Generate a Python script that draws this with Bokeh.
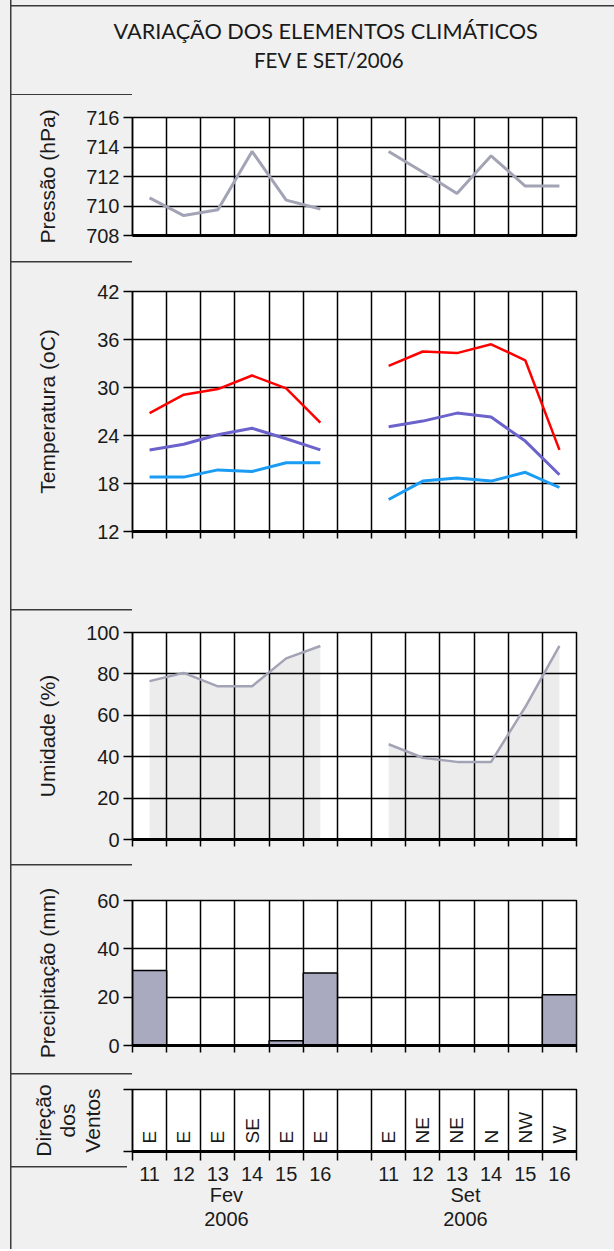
import numpy as np
from bokeh.plotting import figure
from bokeh.models import Range1d, FixedTicker, LinearAxis, Grid, Title
from bokeh.layouts import column
from bokeh.embed import file_html
from bokeh.resources import INLINE
from bokeh.core.properties import value

# ---------------- data ----------------
dias = ["11", "12", "13", "14", "15", "16"]
meses = ["Fev", "Set"]
ano = "2006"
titulo = ["VARIAÇÃO DOS ELEMENTOS CLIMÁTICOS", "FEV E SET/2006"]

pressao_fev = [710.55, 709.35, 709.75, 713.7, 710.4, 709.8]
pressao_set = [713.7, 712.3, 710.85, 713.4, 711.35, 711.35]

tmax_fev = [26.8, 29.1, 29.8, 31.5, 29.9, 25.6]
tmax_set = [32.7, 34.5, 34.3, 35.4, 33.4, 22.2]
tmed_fev = [22.2, 22.9, 24.1, 24.9, 23.6, 22.2]
tmed_set = [25.1, 25.8, 26.8, 26.3, 23.3, 19.1]
tmin_fev = [18.8, 18.8, 19.7, 19.5, 20.6, 20.6]
tmin_set = [16.0, 18.3, 18.7, 18.3, 19.4, 17.5]

umid_fev = [76.5, 80.5, 74.0, 74.0, 87.5, 93.5]
umid_set = [46.0, 39.5, 37.5, 37.5, 64.0, 93.5]

precip_fev = [31, 0, 0, 0, 2, 30]
precip_set = [0, 0, 0, 0, 0, 21]

vento_fev = ["E", "E", "E", "SE", "E", "E"]
vento_set = ["E", "NE", "NE", "N", "NW", "W"]

# ---------------- layout constants ----------------
W = 614
FL = 132
FW = 444
FR = W - FL - FW
BG = "#f0f0f0"
LC = "#3a3a3a"
TXT = "#1a1a1a"
FONT = "Liberation Sans"

x_fev = list(range(len(dias)))
x_set = [len(dias) + 1 + i for i in range(len(dias))]
n_cols = len(dias) * 2 + 1
bounds = [i - 0.5 for i in range(n_cols + 1)]


def deco(seps, top_line=None):
    """CSS background: left border of the chart + short separator lines."""
    g = f"linear-gradient({LC},{LC})"
    layers = [f"{g} 10px 0px / 1.5px 100% no-repeat"]
    if top_line is not None:
        layers.append(f"{g} 10px {top_line}px / {W - 10}px 1.5px no-repeat")
    for x0, x1, y in seps:
        layers.append(f"{g} {x0}px {y}px / {x1 - x0}px 1.5px no-repeat")
    return {"background": ", ".join(layers) + ", " + BG}


def panel(top_b, frame_h, bot_b, y0, y1, yticks, ylabel, lab_standoff,
          xtick_out=7, seps=None, show_ylabels=True):
    H = top_b + frame_h + bot_b
    p = figure(width=W, height=H,
               frame_width=FW, frame_height=frame_h,
               min_border_left=FL, min_border_right=FR,
               min_border_top=top_b, min_border_bottom=bot_b,
               x_range=Range1d(bounds[0], bounds[-1]), y_range=Range1d(y0, y1),
               x_axis_type=None, y_axis_type=None,
               toolbar_location=None, output_backend="svg",
               background_fill_color="white", border_fill_color=None,
               outline_line_color="black", outline_line_width=1.5,
               styles=deco(seps if seps is not None else [(10, FL, 0)]))
    if show_ylabels:
        yt = FixedTicker(ticks=yticks, minor_ticks=[])
    else:
        yt = FixedTicker(ticks=[], minor_ticks=yticks)
    ya = LinearAxis(ticker=yt,
                    axis_label=ylabel, axis_label_standoff=lab_standoff,
                    axis_label_text_font=FONT, axis_label_text_font_size="21px",
                    axis_label_text_font_style="normal", axis_label_text_color=TXT,
                    axis_label_text_line_height=1.05,
                    major_label_text_font=FONT, major_label_text_color=TXT,
                    major_label_text_font_size="20px",
                    major_label_standoff=4 if show_ylabels else 0,
                    major_tick_out=9, major_tick_in=0, major_tick_line_width=1.5,
                    major_tick_line_color="black",
                    minor_tick_out=9, minor_tick_in=0, minor_tick_line_width=1.5,
                    minor_tick_line_color="black",
                    axis_line_color="black", axis_line_width=1.5)
    p.add_layout(ya, "left")
    xa = LinearAxis(ticker=FixedTicker(ticks=[], minor_ticks=bounds),
                    major_label_standoff=0, major_tick_out=0, major_tick_in=0,
                    minor_tick_out=xtick_out, minor_tick_in=0,
                    minor_tick_line_width=1.5,
                    minor_tick_line_color="black" if xtick_out else None,
                    axis_line_color="black", axis_line_width=3)
    p.add_layout(xa, "below")
    p.add_layout(Grid(dimension=0, ticker=FixedTicker(ticks=bounds),
                      grid_line_color="black", grid_line_width=1.5))
    if show_ylabels:
        p.add_layout(Grid(dimension=1, ticker=FixedTicker(ticks=yticks),
                          grid_line_color="black", grid_line_width=1.5))
    return p


# ---------------- title block ----------------
TH = 95
t = figure(width=W, height=TH,
           min_border_left=FL, min_border_right=FR, min_border_top=72, min_border_bottom=0,
           x_range=Range1d(0, 1), y_range=Range1d(0, 1),
           x_axis_type=None, y_axis_type=None,
           toolbar_location=None, output_backend="svg",
           background_fill_color=None, border_fill_color=None, outline_line_color=None,
           styles=deco([(10, FL, TH - 1.5)], top_line=4.5))
# nearest to frame first: second line, then first line
t.add_layout(Title(text=titulo[1], align="left", offset=121.5, standoff=2,
                   text_font="Lato", text_font_size="20.5px", text_font_style="normal",
                   text_color=TXT), "above")
t.add_layout(Title(text=titulo[0], align="left", offset=-19, standoff=2,
                   text_font="Lato", text_font_size="21.7px", text_font_style="normal",
                   text_color=TXT), "above")

# ---------------- pressure ----------------
pp = panel(22, 118, 26, 708, 716, [708, 710, 712, 714, 716], "Pressão (hPa)", 24,
           xtick_out=0, seps=[])
pp.line(x_fev, pressao_fev, line_color="#a3a3b6", line_width=3)
pp.line(x_set, pressao_set, line_color="#a3a3b6", line_width=3)

# ---------------- temperature ----------------
pt = panel(30, 240, 78, 12, 42, [12, 18, 24, 30, 36, 42], "Temperatura (oC)", 35)
for xs, ys in ((x_fev, tmin_fev), (x_set, tmin_set)):
    pt.line(xs, ys, line_color="#1a9cf5", line_width=3)
for xs, ys in ((x_fev, tmed_fev), (x_set, tmed_set)):
    pt.line(xs, ys, line_color="#6b62cc", line_width=3)
for xs, ys in ((x_fev, tmax_fev), (x_set, tmax_set)):
    pt.line(xs, ys, line_color="#ff0000", line_width=2.5)

# ---------------- humidity ----------------
pu = panel(23, 207, 25, 0, 100, [0, 20, 40, 60, 80, 100], "Umidade (%)", 24)
for g in pu.center:
    if isinstance(g, Grid):
        g.level = "guide"
for xs, ys in ((x_fev, umid_fev), (x_set, umid_set)):
    pu.varea(x=xs, y1=[0] * len(ys), y2=ys, fill_color="#ececec")
    pu.line(xs, ys, line_color="#a3a3b6", line_width=2.5, level="annotation")

# ---------------- precipitation ----------------
pr = panel(36, 145, 28, 0, 60, [0, 20, 40, 60], "Precipitação (mm)", 35)
pr.vbar(x=x_fev + x_set, top=precip_fev + precip_set, width=1.0, bottom=0,
        fill_color="#a9a9c0", line_color="black", line_width=1.5)

# ---------------- wind ----------------
pw = panel(16, 62, 98, 0, 1, [0, 1], "Direção\ndos\nVentos", 20,
           xtick_out=0, show_ylabels=False,
           seps=[(10, FL, 0), (10, 127, 92.5)])
pw.below = []
xa = LinearAxis(ticker=FixedTicker(ticks=x_fev + x_set, minor_ticks=bounds),
                major_label_overrides={x: d for x, d in zip(x_fev + x_set, dias + dias)},
                major_label_text_font=FONT, major_label_text_font_size="20px",
                major_label_text_color=TXT, major_label_standoff=6,
                major_tick_out=0, major_tick_in=0, major_tick_line_color=None,
                minor_tick_out=9, minor_tick_in=0, minor_tick_line_width=1.5,
                minor_tick_line_color="black",
                axis_line_color="black", axis_line_width=3)
pw.add_layout(xa, "below")
grp_pos = [float(np.mean(x_fev)) - 0.25, float(np.mean(x_set)) - 0.25]
xg = LinearAxis(ticker=FixedTicker(ticks=grp_pos, minor_ticks=[]),
                major_label_overrides={x: f"{m}\n{ano}" for x, m in zip(grp_pos, meses)},
                major_label_text_font=FONT, major_label_text_font_size="20px",
                major_label_text_color=TXT, major_label_standoff=0,
                major_label_text_line_height=1.1,
                major_tick_out=0, major_tick_in=0, major_tick_line_color=None,
                axis_line_color=None)
pw.add_layout(xg, "below")
pw.text(x=x_fev + x_set, y=[0] * 12, text=vento_fev + vento_set, angle=np.pi / 2,
        text_align="left", text_baseline="middle", y_offset=-8,
        text_font=value(FONT), text_font_size="19px", text_color=TXT)

layout = column(t, pp, pt, pu, pr, pw, spacing=0, styles={"background": BG})
open("out.html", "w").write(file_html(layout, INLINE))
